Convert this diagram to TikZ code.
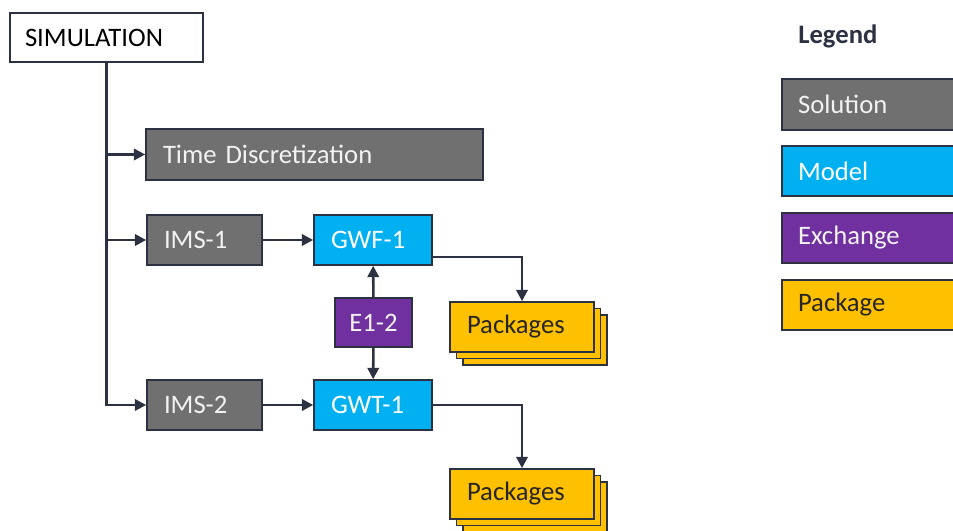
\documentclass[tikz,border=0pt]{standalone}
\usepackage{fontspec}
\setmainfont{Carlito}
\usetikzlibrary{arrows.meta,shadows}
\definecolor{solgray}{RGB}{112,112,112}
\definecolor{modblue}{RGB}{0,176,240}
\definecolor{excpurple}{RGB}{112,48,160}
\definecolor{pkgyellow}{RGB}{255,192,0}
\definecolor{edge}{RGB}{45,50,66}
\definecolor{lighttext}{RGB}{242,242,242}
\tikzset{
  x=0.75pt, y=-0.75pt,
  bx/.style={rectangle, draw=edge, line width=1.2pt, inner xsep=12.75pt, inner ysep=0pt,
    align=left, font=\fontsize{20}{22}\selectfont, anchor=center},
  sol/.style={bx, fill=solgray, text=lighttext},
  mdl/.style={bx, fill=modblue, text=white},
  exc/.style={bx, fill=excpurple, text=lighttext},
  pkg/.style={bx, fill=pkgyellow, text=black!85},
  stackpkg/.style={pkg, double copy shadow={shadow xshift=4.9pt, shadow yshift=-4.9pt, draw=edge, fill=pkgyellow}},
  conn/.style={draw=edge, line width=1.9pt, -{Triangle[length=8.5pt,width=8.5pt]}}
}
\begin{document}
\begin{tikzpicture}
\useasboundingbox (0,0) rectangle (953,531);
\clip (0,0) rectangle (953,531);
\fill[white] (0,0) rectangle (953,531);
% main nodes
\node[bx, fill=white, text=black, inner xsep=11.25pt, text width=122.25pt, minimum height=36.75pt] (sim) at (106.5,37.5) {SIMULATION};
\node[sol, text width=227.25pt, minimum height=38.25pt] (td) at (314.5,154.5) {Time Discretization};
\node[sol, text width=60.75pt, minimum height=37.5pt] (ims1) at (204.5,240) {IMS-1};
\node[mdl, text width=63pt, minimum height=37.5pt] (gwf1) at (373,240) {GWF-1};
\node[exc, inner xsep=3pt, text width=51.75pt, align=center, minimum height=36.75pt] (e12) at (373.5,322.5) {E1-2};
\node[sol, text width=60.75pt, minimum height=37.5pt] (ims2) at (204.5,405) {IMS-2};
\node[mdl, text width=63pt, minimum height=37.5pt] (gwt1) at (373,405) {GWT-1};
\node[stackpkg, text width=82.5pt, minimum height=37.5pt] (pkg1) at (522,327) {Packages};
\node[stackpkg, text width=82.5pt, minimum height=37.5pt] (pkg2) at (522,494) {Packages};
% connectors
\draw[conn] (sim.south) |- (ims2.west);
\draw[conn] (sim.south |- td.west) -- (td.west);
\draw[conn] (sim.south |- ims1.west) -- (ims1.west);
\draw[conn] (ims1) -- (gwf1);
\draw[conn] (ims2) -- (gwt1);
\draw[conn] (e12) -- (gwf1);
\draw[conn] (e12) -- (gwt1);
\draw[conn] ([yshift=-12.75pt]gwf1.east) -| (pkg1.north);
\draw[conn] (gwt1.east) -| (pkg2.north);
% legend
\node[anchor=west, font=\fontsize{20}{22}\selectfont\bfseries, text=edge, inner sep=0pt] (legtitle) at (798,36) {Legend};
\node[sol, inner xsep=12pt, text width=109.5pt, minimum height=38.25pt] (lsol) at (871,104.5) {Solution};
\node[mdl, inner xsep=12pt, text width=109.5pt, minimum height=37.5pt] (lmod) at (871,171) {Model};
\node[exc, inner xsep=12pt, text width=109.5pt, minimum height=37.5pt] (lexc) at (871,238) {Exchange};
\node[pkg, inner xsep=12pt, text width=109.5pt, minimum height=37.5pt] (lpkg) at (871,305) {Package};
\end{tikzpicture}
\end{document}
